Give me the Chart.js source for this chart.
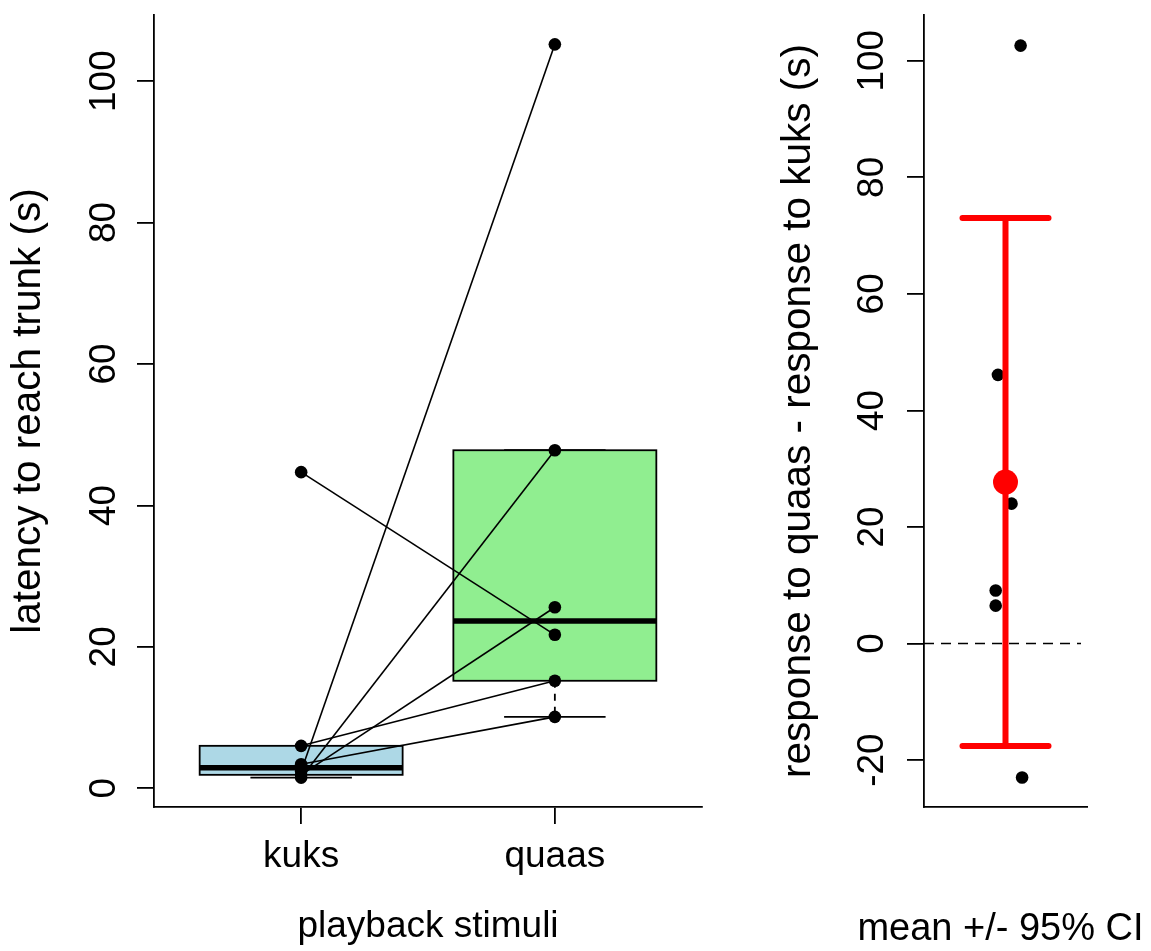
<!DOCTYPE html>
<html>
<head>
<meta charset="utf-8">
<title>latency to reach trunk</title>
<script src="https://cdn.jsdelivr.net/npm/chart.js@4.4.1/dist/chart.umd.min.js"></script>
<style>
  html, body { margin:0; padding:0; background:#fff; }
  #wrap { position:relative; width:1151px; height:951px; overflow:hidden; background:#fff; }
  #left  { position:absolute; left:0; top:0; }
  #right { position:absolute; left:740px; top:0; }
</style>
</head>
<body>
<div id="wrap">
  <canvas id="left" width="740" height="951"></canvas>
  <canvas id="right" width="411" height="951"></canvas>
</div>
<script>
// latency (s) per bird, same order in both arrays -> paired
const stimuli = ['kuks', 'quaas'];
const kuks  = [2.4, 1.5, 1.9, 6.0, 3.4, 44.7];
const quaas = [105.2, 47.8, 25.6, 15.2, 10.1, 21.7];
const latencyTicks = [0, 20, 40, 60, 80, 100];

// differences quaas - kuks, with the x jitter used when plotting
const diffs = [102.6, 46.1, 24.0, 9.1, 6.5, -23.0];
const diffX = [1.10, 0.95, 1.04, 0.935, 0.935, 1.11];
const diffTicks = [-20, 0, 20, 40, 60, 80, 100];
const ciMean = 27.7, ciLow = -17.6, ciHigh = 73.0;

const FONT = "'Liberation Sans', Arial, Helvetica, sans-serif";
const INK = '#000', RED = '#FF0000', LW = 1.8;
const BOX_FILL = ['#ADD8E6', '#90EE90'];
const CAP = 0.285;

Chart.defaults.font.family = FONT;
Chart.defaults.color = INK;

// Tukey's five number summary (same hinges as R boxplot)
function fivenum(v) {
  const s = [...v].sort((a, b) => a - b), n = s.length;
  const n4 = Math.floor((n + 3) / 2) / 2;
  return [1, n4, (n + 1) / 2, n + 1 - n4, n]
    .map(d => 0.5 * (s[Math.floor(d) - 1] + s[Math.ceil(d) - 1]));
}
function boxStats(v) {
  const [, q1, med, q3] = fivenum(v);
  const iqr = q3 - q1;
  const inside = v.filter(d => d >= q1 - 1.5 * iqr && d <= q3 + 1.5 * iqr);
  return { q1, med, q3, lo: Math.min(...inside), hi: Math.max(...inside) };
}

// y tick labels run along the axis, like base R
function rotatedTicks(values, baselineX) {
  return {
    id: 'rotatedTicks',
    afterDraw(chart) {
      const ctx = chart.ctx, ys = chart.scales.y;
      ctx.save();
      ctx.fillStyle = INK;
      ctx.font = '37px ' + FONT;
      ctx.textAlign = 'center';
      ctx.textBaseline = 'alphabetic';
      values.forEach(v => {
        ctx.save();
        ctx.translate(baselineX, ys.getPixelForValue(v));
        ctx.rotate(-Math.PI / 2);
        ctx.fillText(String(v), 0, 0);
        ctx.restore();
      });
      ctx.restore();
    }
  };
}

// x label under the narrow panel; wider than the axis, so no maxWidth squeeze
function bottomLabel(text, size, shift, baselineY) {
  return {
    id: 'bottomLabel',
    afterDraw(chart) {
      const { ctx, chartArea: a } = chart;
      ctx.save();
      ctx.fillStyle = INK;
      ctx.font = size + 'px ' + FONT;
      ctx.textAlign = 'center';
      ctx.textBaseline = 'alphabetic';
      ctx.fillText(text, (a.left + a.right) / 2 + shift, baselineY);
      ctx.restore();
    }
  };
}

const boxPlot = {
  id: 'boxPlot',
  beforeDatasetsDraw(chart) {
    const { ctx, scales: { x, y } } = chart;
    [kuks, quaas].forEach((vals, i) => {
      const s = boxStats(vals), cx = i + 1;
      const xl = x.getPixelForValue(cx - 0.4), xr = x.getPixelForValue(cx + 0.4);
      const sl = x.getPixelForValue(cx - 0.2), sr = x.getPixelForValue(cx + 0.2);
      const xm = x.getPixelForValue(cx);
      const top = y.getPixelForValue(s.q3), bot = y.getPixelForValue(s.q1);
      ctx.save();
      ctx.strokeStyle = INK;
      ctx.lineWidth = LW;
      // whiskers
      ctx.setLineDash([7, 6]);
      ctx.beginPath();
      ctx.moveTo(xm, bot); ctx.lineTo(xm, y.getPixelForValue(s.lo));
      ctx.moveTo(xm, top); ctx.lineTo(xm, y.getPixelForValue(s.hi));
      ctx.stroke();
      ctx.setLineDash([]);
      // staples
      ctx.beginPath();
      [s.lo, s.hi].forEach(v => {
        const py = y.getPixelForValue(v);
        ctx.moveTo(sl, py); ctx.lineTo(sr, py);
      });
      ctx.stroke();
      // box
      ctx.fillStyle = BOX_FILL[i];
      ctx.fillRect(xl, top, xr - xl, bot - top);
      ctx.strokeRect(xl, top, xr - xl, bot - top);
      // median
      const pm = y.getPixelForValue(s.med);
      ctx.lineWidth = 5.5;
      ctx.beginPath(); ctx.moveTo(xl, pm); ctx.lineTo(xr, pm); ctx.stroke();
      ctx.restore();
    });
  }
};

const zeroLine = {
  id: 'zeroLine',
  beforeDatasetsDraw(chart) {
    const { ctx, chartArea: a, scales: { y } } = chart;
    const py = y.getPixelForValue(0);
    ctx.save();
    ctx.strokeStyle = INK;
    ctx.lineWidth = 1.5;
    ctx.setLineDash([10, 7]);
    ctx.beginPath(); ctx.moveTo(a.left, py); ctx.lineTo(a.right - 6, py); ctx.stroke();
    ctx.restore();
  }
};

const axisGrid = { drawOnChartArea: false, tickLength: 17, color: INK, lineWidth: LW };
const axisBorder = { color: INK, width: LW };
const baseOpts = {
  responsive: false, animation: false, events: [],
  plugins: { legend: { display: false }, tooltip: { enabled: false } }
};

// left panel: boxplots with paired lines
const pairLines = kuks.map((k, i) => ({
  data: [{ x: 1, y: k }, { x: 2, y: quaas[i] }],
  showLine: true, borderColor: INK, borderWidth: 1.6, pointRadius: 0, order: 2
}));
const birdPoints = {
  data: [...kuks.map(v => ({ x: 1, y: v })), ...quaas.map(v => ({ x: 2, y: v }))],
  pointRadius: 6.3, pointBackgroundColor: INK, pointBorderWidth: 0, order: 1
};

new Chart(document.getElementById('left'), {
  type: 'scatter',
  data: { datasets: [birdPoints, ...pairLines] },
  options: { ...baseOpts,
    layout: { padding: { left: 0, top: 15, right: 38, bottom: 0 } },
    scales: {
      x: {
        type: 'linear', min: 0.42, max: 2.58, bounds: 'data',
        afterBuildTicks: s => { s.ticks = stimuli.map((_, i) => ({ value: i + 1 })); },
        ticks: { callback: v => stimuli[v - 1], font: { size: 37 }, padding: 11,
                 color: INK, maxRotation: 0, autoSkip: false },
        grid: axisGrid, border: axisBorder,
        title: { display: true, text: 'playback stimuli', color: INK,
                 font: { size: 37 }, padding: { top: 0, bottom: 1.6 } },
        afterFit: s => { s.height = 144; }
      },
      y: {
        type: 'linear', min: -2.65, max: 109.35, bounds: 'data',
        afterBuildTicks: s => { s.ticks = latencyTicks.map(v => ({ value: v })); },
        ticks: { display: false },
        grid: axisGrid, border: axisBorder,
        title: { display: true, text: 'latency to reach trunk (s)', color: INK,
                 font: { size: 40.5 }, padding: { top: 4.2, bottom: 0 } },
        afterFit: s => { s.width = 154; }
      }
    }
  },
  plugins: [boxPlot, rotatedTicks(latencyTicks, 114.5)]
});

// right panel: paired differences with mean +/- 95% CI
new Chart(document.getElementById('right'), {
  type: 'scatter',
  data: { datasets: [
    { data: [{ x: 1, y: ciMean }], pointRadius: 12.5, pointBackgroundColor: RED,
      pointBorderWidth: 0, order: 1 },
    { data: [{ x: 1, y: ciLow }, { x: 1, y: ciHigh }], showLine: true,
      borderColor: RED, borderWidth: 6, pointRadius: 0, order: 2 },
    { data: [{ x: 1 - CAP, y: ciHigh }, { x: 1 + CAP, y: ciHigh }], showLine: true,
      borderColor: RED, borderWidth: 6, borderCapStyle: 'round', pointRadius: 0, order: 2 },
    { data: [{ x: 1 - CAP, y: ciLow }, { x: 1 + CAP, y: ciLow }], showLine: true,
      borderColor: RED, borderWidth: 6, borderCapStyle: 'round', pointRadius: 0, order: 2 },
    { data: diffs.map((d, i) => ({ x: diffX[i], y: d })), pointRadius: 6.3,
      pointBackgroundColor: INK, pointBorderWidth: 0, order: 3 }
  ] },
  options: { ...baseOpts,
    layout: { padding: { left: 0, top: 15, right: 64, bottom: 0 } },
    scales: {
      x: {
        type: 'linear', min: 0.46, max: 1.54, bounds: 'data',
        ticks: { display: false },
        grid: { display: false }, border: axisBorder,
        afterFit: s => { s.height = 144; }
      },
      y: {
        type: 'linear', min: -28.05, max: 107.85, bounds: 'data',
        afterBuildTicks: s => { s.ticks = diffTicks.map(v => ({ value: v })); },
        ticks: { display: false },
        grid: axisGrid, border: axisBorder,
        title: { display: true, text: 'response to quaas - response to kuks (s)', color: INK,
                 font: { size: 40.5 }, padding: { top: 34.2, bottom: 0 } },
        afterFit: s => { s.width = 184; }
      }
    }
  },
  plugins: [zeroLine, rotatedTicks(diffTicks, 143), bottomLabel('mean +/- 95% CI', 38, -5, 940)]
});
</script>
</body>
</html>
